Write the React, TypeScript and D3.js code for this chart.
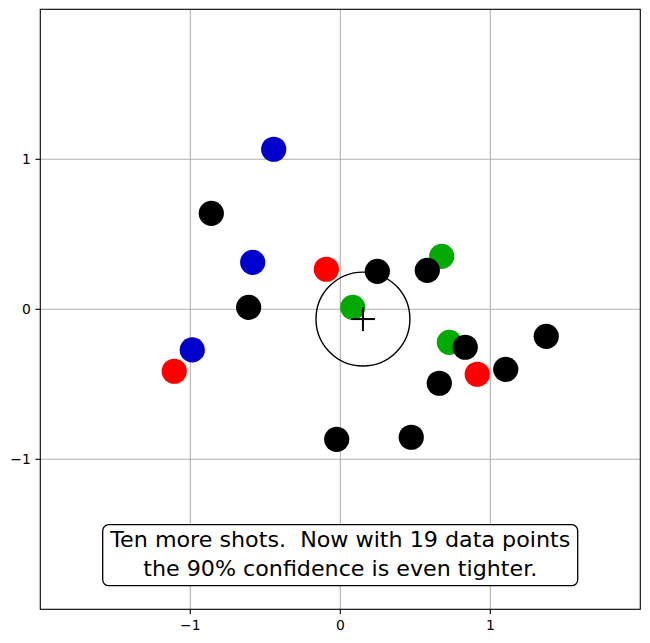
import React from 'react';
import * as d3 from 'd3';

// shots, grouped by color (first nine shots in groups of three, then ten more)
const blueX = [-0.444, -0.584, -0.987];
const blueY = [1.067, 0.313, -0.271];
const redX = [-0.093, -1.107, 0.913];
const redY = [0.267, -0.413, -0.433];
const greenX = [0.083, 0.676, 0.727];
const greenY = [0.013, 0.353, -0.22];
const blackX = [-0.86, -0.611, 0.247, 0.58, 1.373, 0.833, 1.103, 0.66, -0.024, 0.473];
const blackY = [0.64, 0.013, 0.253, 0.26, -0.18, -0.253, -0.4, -0.493, -0.867, -0.853];

// 90% confidence circle
const centerX = 0.151;
const centerY = -0.065;
const radius = 0.313;

const ticks = [-1, 0, 1];
const noteLines = ['Ten more shots.  Now with 19 data points', 'the 90% confidence is even tighter.'];

const groups = [
  { xs: blueX, ys: blueY, color: '#0000cc' },
  { xs: redX, ys: redY, color: '#ff0000' },
  { xs: greenX, ys: greenY, color: '#00aa00' },
  { xs: blackX, ys: blackY, color: '#000000' },
];

const App: React.FC = () => {
  const width = 650;
  const height = 643;
  const left = 40.3;
  const right = 640.3;
  const top = 9.3;
  const bottom = 609.3;

  const x = d3.scaleLinear().domain([-2, 2]).range([left, right]);
  const y = d3.scaleLinear().domain([-2, 2]).range([bottom, top]);
  const font = "'DejaVu Sans', sans-serif";
  const r = radius * (x(1) - x(0));
  const lineWidths = [460, 394]; // rendered widths of the note lines

  return (
    <svg width={width} height={height} style={{ position: 'absolute', left: 0, top: 0 }}>
      <rect width={width} height={height} fill="#fff" />
      {/* grid */}
      {ticks.map((t) => (
        <g key={'g' + t}>
          <line x1={x(t)} x2={x(t)} y1={top} y2={bottom} stroke="#b0b0b0" strokeWidth={1.1} />
          <line x1={left} x2={right} y1={y(t)} y2={y(t)} stroke="#b0b0b0" strokeWidth={1.1} />
        </g>
      ))}
      {/* points */}
      {groups.map((g, gi) =>
        g.xs.map((v, i) => (
          <circle key={gi + '-' + i} cx={x(v)} cy={y(g.ys[i])} r={12.6} fill={g.color} />
        ))
      )}
      {/* confidence circle and center */}
      <circle cx={x(centerX)} cy={y(centerY)} r={r} fill="none" stroke="#000" strokeWidth={1.4} />
      <line x1={x(centerX) - 12} x2={x(centerX) + 12} y1={y(centerY)} y2={y(centerY)} stroke="#000" strokeWidth={2} />
      <line x1={x(centerX)} x2={x(centerX)} y1={y(centerY) - 12} y2={y(centerY) + 12} stroke="#000" strokeWidth={2} />
      {/* frame */}
      <rect x={left} y={top} width={right - left} height={bottom - top} fill="none" stroke="#000" strokeWidth={1.1} />
      {/* ticks */}
      {ticks.map((t) => (
        <g key={'t' + t} style={{ fontFamily: font }} fontSize={13.9} fill="#000">
          <line x1={x(t)} x2={x(t)} y1={bottom} y2={bottom + 4.9} stroke="#000" strokeWidth={1.1} />
          <text x={x(t)} y={bottom + 20.5} textAnchor="middle">
            {t < 0 ? '\u2212' + Math.abs(t) : String(t)}
          </text>
          <line x1={left - 4.9} x2={left} y1={y(t)} y2={y(t)} stroke="#000" strokeWidth={1.1} />
          <text x={left - 9.5} y={y(t) + 5} textAnchor="end">
            {t < 0 ? '\u2212' + Math.abs(t) : String(t)}
          </text>
        </g>
      ))}
      {/* note box */}
      <rect x={102.7} y={524.7} width={475} height={61} rx={6} fill="#fff" stroke="#000" strokeWidth={1.3} />
      {noteLines.map((s, i) => (
        <text
          key={'n' + i}
          x={x(0)}
          y={547.3 + i * 28.6}
          textAnchor="middle"
          fontSize={20.4}
          fill="#000"
          textLength={lineWidths[i]}
          lengthAdjust="spacingAndGlyphs"
          style={{ whiteSpace: 'pre', fontFamily: font }}
        >
          {s}
        </text>
      ))}
    </svg>
  );
};

export default App;
